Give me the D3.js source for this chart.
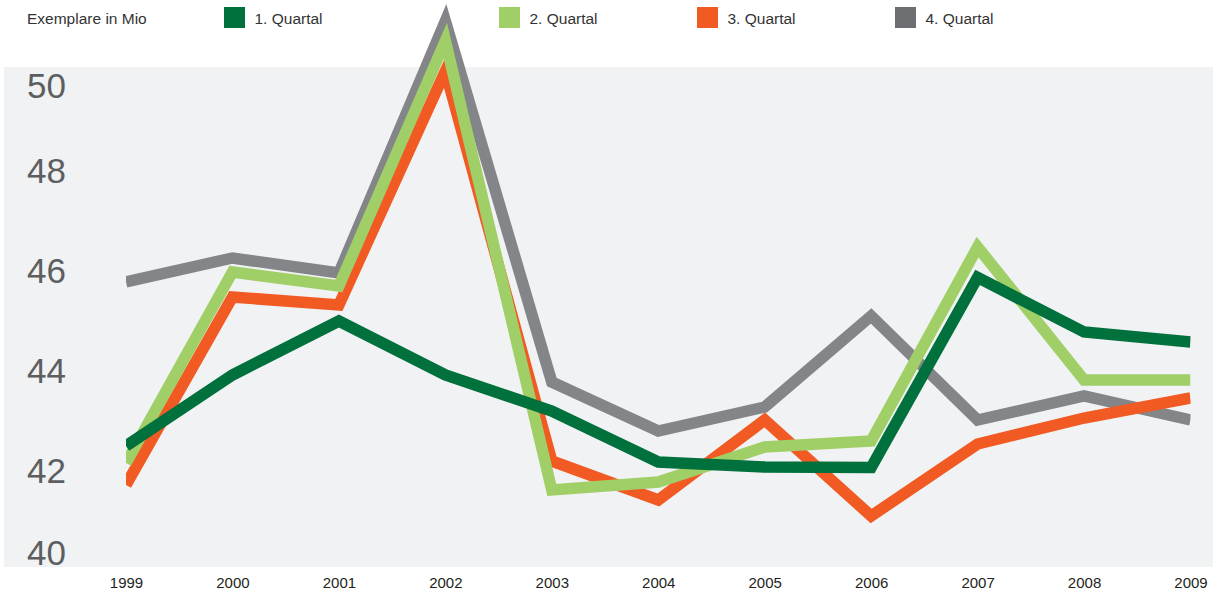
<!DOCTYPE html>
<html>
<head>
<meta charset="utf-8">
<script src="https://cdn.jsdelivr.net/npm/d3@7"></script>
<style>
  html, body { margin: 0; padding: 0; background: #ffffff; }
  svg { display: block; }
</style>
</head>
<body>
<svg id="chart" width="1217" height="596"></svg>
<script>
// ---- data ----
const years = [1999, 2000, 2001, 2002, 2003, 2004, 2005, 2006, 2007, 2008, 2009];
const q1 = [42.42, 43.84, 44.92, 43.84, 43.12, 42.10, 42.00, 41.99, 45.79, 44.70, 44.50];
const q2 = [42.08, 45.90, 45.62, 50.52, 41.54, 41.70, 42.40, 42.52, 46.40, 43.74, 43.74];
const q3 = [41.64, 45.40, 45.24, 49.92, 42.12, 41.34, 42.94, 41.02, 42.46, 42.98, 43.38];
const q4 = [45.70, 46.18, 45.88, 50.92, 43.70, 42.72, 43.20, 45.02, 42.94, 43.42, 42.94];
const seriesNames = ["1. Quartal", "2. Quartal", "3. Quartal", "4. Quartal"];
const yTicks = [40, 42, 44, 46, 48, 50];
const unitLabel = "Exemplare in Mio";

// ---- styles ----
const lineColors = ["#00703c", "#a0cf67", "#f15a22", "#848589"];
const legendColors = ["#00703c", "#a0cf67", "#f15a22", "#6d6e71"];

const svg = d3.select("#chart");
const panel = { x0: 4, x1: 1213, y0: 67, y1: 567 };

const x = d3.scaleLinear().domain([years[0], years[years.length - 1]]).range([126, 1190.5]);
const y = d3.scaleLinear().domain([40, 50]).range([panel.y1, panel.y0]);

// panel background
svg.append("rect")
  .attr("x", panel.x0).attr("y", panel.y0)
  .attr("width", panel.x1 - panel.x0).attr("height", panel.y1 - panel.y0)
  .attr("fill", "#f1f2f4");

// y tick labels
svg.append("g").selectAll("text").data(yTicks).join("text")
  .attr("x", 27)
  .attr("y", d => Math.max(98, Math.min(565, y(d) + 16)))
  .attr("font-family", "Liberation Sans, Arial, sans-serif")
  .attr("font-size", 35)
  .attr("fill", "#5d5e60")
  .text(d => d);

// x axis labels
const xAxis = d3.axisBottom(x).tickValues(years).tickFormat(d3.format("d")).tickSize(0).tickPadding(0);
const gx = svg.append("g").attr("transform", `translate(0, 577)`).call(xAxis);
gx.select(".domain").remove();
gx.selectAll("text")
  .attr("font-family", "Liberation Sans, Arial, sans-serif")
  .attr("font-size", 15)
  .attr("fill", "#231f20")
  .attr("dy", "0.72em");

// clip lines horizontally to the data range
svg.append("clipPath").attr("id", "clipx")
  .append("rect").attr("x", x(years[0])).attr("y", -100)
  .attr("width", x(years[years.length - 1]) - x(years[0])).attr("height", 900);

const line = d3.line().x((d, i) => x(years[i])).y(d => y(d));
const allSeries = [q1, q2, q3, q4];
const drawOrder = [3, 2, 1, 0];
const gl = svg.append("g").attr("clip-path", "url(#clipx)");
drawOrder.forEach(k => {
  gl.append("path")
    .attr("d", line(allSeries[k]))
    .attr("fill", "none")
    .attr("stroke", lineColors[k])
    .attr("stroke-width", 11.5)
    .attr("stroke-linejoin", "miter")
    .attr("stroke-miterlimit", 10)
    .attr("stroke-linecap", "butt");
});

// legend
svg.append("text")
  .attr("x", 27).attr("y", 24)
  .attr("font-family", "Liberation Sans, Arial, sans-serif")
  .attr("font-size", 15.5)
  .attr("fill", "#333333")
  .text(unitLabel);

const legendX = [224, 499, 697, 895];
const lg = svg.append("g").selectAll("g").data(seriesNames).join("g")
  .attr("transform", (d, i) => `translate(${legendX[i]}, 7)`);
lg.append("rect").attr("width", 21).attr("height", 21).attr("fill", (d, i) => legendColors[i]);
lg.append("text").attr("x", 30.5).attr("y", 17)
  .attr("font-family", "Liberation Sans, Arial, sans-serif")
  .attr("font-size", 15.5)
  .attr("fill", "#333333")
  .text(d => d);
</script>
</body>
</html>
